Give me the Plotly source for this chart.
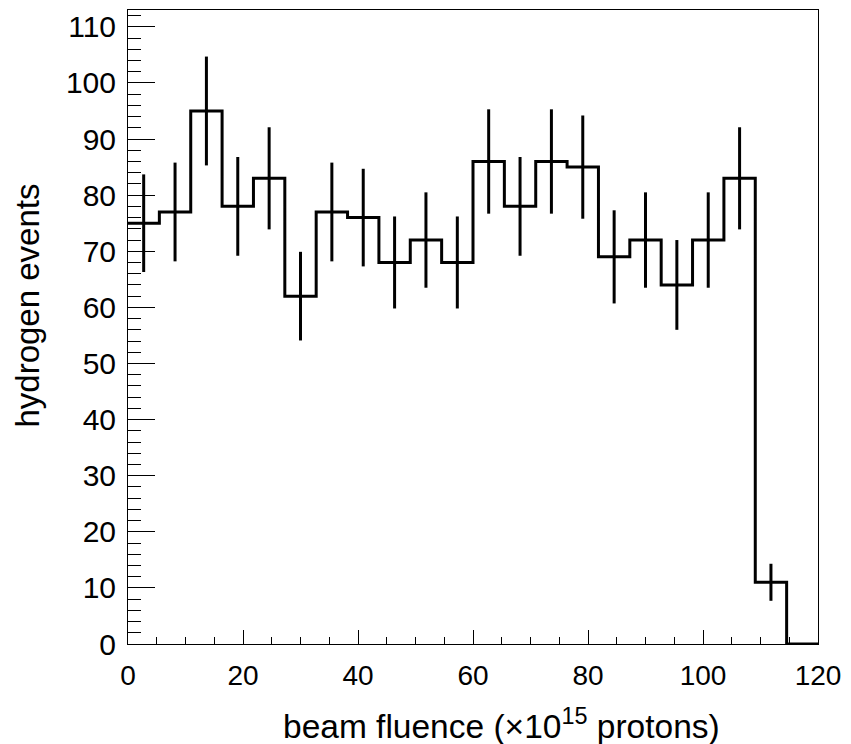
import numpy as np
import plotly.graph_objects as go

# Data
counts = [75, 77, 95, 78, 83, 62, 77, 76, 68, 72, 68, 86, 78, 86, 85, 69, 72, 64, 72, 83, 11, 0]
errors = [8.7, 8.8, 9.7, 8.8, 9.1, 7.9, 8.8, 8.7, 8.2, 8.5, 8.2, 9.3, 8.8, 9.3, 9.2, 8.3, 8.5, 8.0, 8.5, 9.1, 3.3, 0.0]
x_min, x_max = 0, 120
x_ticks = [0, 20, 40, 60, 80, 100, 120]
y_ticks = [0, 10, 20, 30, 40, 50, 60, 70, 80, 90, 100, 110]

n_bins = len(counts)
edges = np.linspace(x_min, x_max, n_bins + 1)
centers = 0.5 * (edges[:-1] + edges[1:])

FONT = "Liberation Sans, Arial, Helvetica, sans-serif"

# page body has an 8px margin; compensate so the plot lands where the reference has it
OFF = 8
W, H = 851 - OFF, 744 - OFF
L, T = 128 - OFF, 9.5 - OFF
PW, PH = 690, 635
R = W - L - PW
B = H - T - PH

fig = go.Figure()

# histogram outline
fig.add_trace(go.Scatter(
    x=edges, y=list(counts) + [counts[-1]],
    mode="lines", line=dict(shape="hv", color="black", width=3),
    hoverinfo="skip", showlegend=False,
))

# error bars (no caps)
fig.add_trace(go.Scatter(
    x=centers, y=counts, mode="markers",
    marker=dict(size=0.1, color="black", opacity=0),
    error_y=dict(type="data", array=errors, visible=True, width=0,
                 thickness=3, color="black"),
    showlegend=False,
))

fig.update_layout(
    width=W, height=H,
    margin=dict(l=L, r=R, t=T, b=B, pad=0),
    paper_bgcolor="white", plot_bgcolor="white",
    font=dict(family=FONT, color="black"),
    showlegend=False,
    xaxis=dict(
        range=[x_min, x_max], tickvals=x_ticks, ticktext=[str(t) for t in x_ticks],
        ticks="inside", ticklen=14, tickwidth=1, tickcolor="black",
        minor=dict(dtick=5, ticks="inside", ticklen=7, tickwidth=1, tickcolor="black"),
        showline=True, linecolor="black", linewidth=1, mirror=True,
        showgrid=False, zeroline=False,
        tickfont=dict(size=28, family=FONT),
        ticklabelstandoff=6,
    ),
    yaxis=dict(
        range=[0, 113], tickvals=y_ticks, ticktext=[str(t) for t in y_ticks],
        ticks="inside", ticklen=27, tickwidth=1, tickcolor="black",
        minor=dict(dtick=2, ticks="inside", ticklen=13, tickwidth=1, tickcolor="black"),
        showline=True, linecolor="black", linewidth=1, mirror=True,
        showgrid=False, zeroline=False,
        tickfont=dict(size=30, family=FONT),
        ticklabelstandoff=5,
    ),
    annotations=[
        dict(text="beam fluence (×10<sup>15</sup> protons)", xref="paper", yref="paper",
             x=(501 - 128) / PW, y=(644 - 724) / PH, xanchor="center", yanchor="middle",
             showarrow=False, font=dict(size=33.5, family=FONT, color="black")),
        dict(text="hydrogen events", xref="paper", yref="paper", textangle=-90,
             x=(28 - 128) / PW, y=(644 - 305) / PH, xanchor="center", yanchor="middle",
             showarrow=False, font=dict(size=33, family=FONT, color="black")),
    ],
)

fig.write_html("out.html")
